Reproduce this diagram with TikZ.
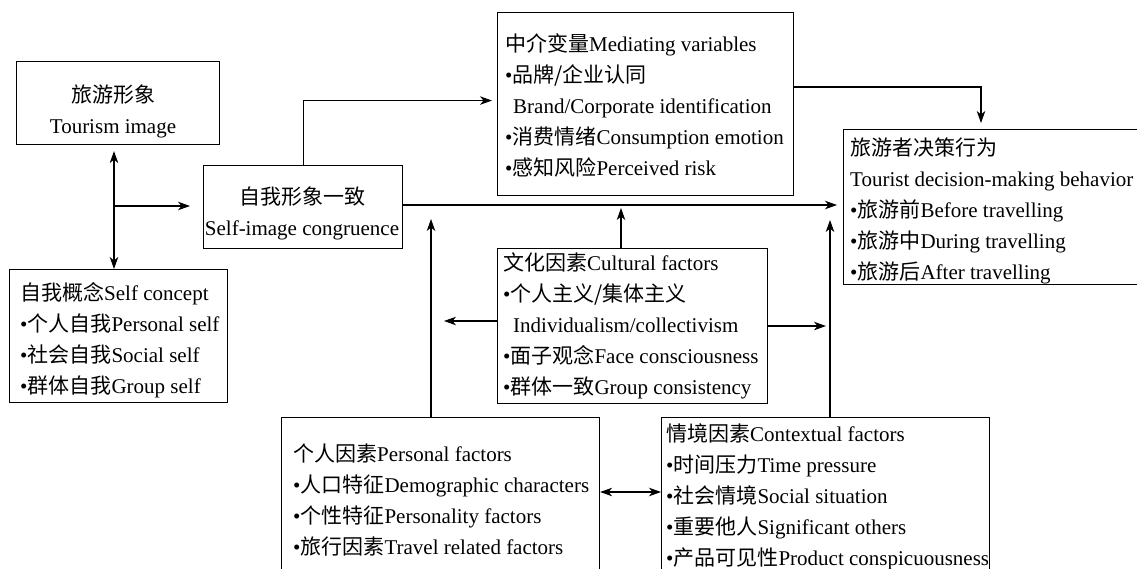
\documentclass[tikz,border=0pt]{standalone}
\usepackage{fontspec}
\setmainfont{Liberation Serif}
\newfontfamily\cjk{Noto Sans CJK SC}
\newcommand\zh[1]{{\cjk #1}}
\usetikzlibrary{arrows.meta}
\begin{document}
\begin{tikzpicture}[x=1pt,y=-1pt,
 box/.style={draw, line width=1.1pt, inner sep=0pt, anchor=north west},
 txt/.style={inner sep=0pt, align=left, anchor=west, font=\fontsize{21}{31}\selectfont},
 txtc/.style={inner sep=0pt, align=center, anchor=center, font=\fontsize{21}{31}\selectfont},
 arr/.style={line width=1.1pt, -{Stealth[length=12pt,width=8.5pt,inset=3.5pt]}},
 dbl/.style={line width=1.1pt, {Stealth[length=12pt,width=8.5pt,inset=3.5pt]}-{Stealth[length=12pt,width=8.5pt,inset=3.5pt]}},
]
\useasboundingbox (0,0) rectangle (1137,568);
\clip (0,0) rectangle (1137,568);

% boxes
\node[box, minimum width=203pt, minimum height=83pt] (timg) at (16,61) {};
\node[box, minimum width=218pt, minimum height=133pt] (scon) at (9,269) {};
\node[box, minimum width=199pt, minimum height=83pt] (simg) at (203,165) {};
\node[box, minimum width=296pt, minimum height=183pt] (med) at (497,12) {};
\node[box, minimum width=330pt, minimum height=155pt] (dec) at (843,129) {};
\node[box, minimum width=270pt, minimum height=155pt] (cult) at (497,248) {};
\node[box, minimum width=318pt, minimum height=180pt] (pers) at (281,417) {};
\node[box, minimum width=328pt, minimum height=180pt] (ctx) at (661,417) {};

% texts
\node[txtc] (timgT) at (113,111.5) {\strut\zh{旅游形象}\\\strut Tourism image};
\node[txtc] (simgT) at (302,213.5) {\strut\zh{自我形象一致}\\\strut Self-image congruence};
\node[txt] (medT) at (505,107) {\strut\zh{中介变量}Mediating variables\\
 \strut•\zh{品牌/企业认同}\\
 \strut\hspace*{8pt}Brand/Corporate identification\\
 \strut•\zh{消费情绪}Consumption emotion\\
 \strut•\zh{感知风险}Perceived risk};
\node[txt] (decT) at (850,211.5) {\strut\zh{旅游者决策行为}\\
 \strut Tourist decision-making behavior\\
 \strut•\zh{旅游前}Before travelling\\
 \strut•\zh{旅游中}During travelling\\
 \strut•\zh{旅游后}After travelling};
\node[txt] (cultT) at (503,326.5) {\strut\zh{文化因素}Cultural factors\\
 \strut•\zh{个人主义/集体主义}\\
 \strut\hspace*{10pt}Individualism/collectivism\\
 \strut•\zh{面子观念}Face consciousness\\
 \strut•\zh{群体一致}Group consistency};
\node[txt] (sconT) at (20,340.5) {\strut\zh{自我概念}Self concept\\
 \strut•\zh{个人自我}Personal self\\
 \strut•\zh{社会自我}Social self\\
 \strut•\zh{群体自我}Group self};
\node[txt] (persT) at (293,502) {\strut\zh{个人因素}Personal factors\\
 \strut•\zh{人口特征}Demographic characters\\
 \strut•\zh{个性特征}Personality factors\\
 \strut•\zh{旅行因素}Travel related factors};
\node[txt] (ctxT) at (666,497.5) {\strut\zh{情境因素}Contextual factors\\
 \strut•\zh{时间压力}Time pressure\\
 \strut•\zh{社会情境}Social situation\\
 \strut•\zh{重要他人}Significant others\\
 \strut•\zh{产品可见性}Product conspicuousness};

% junction coordinates
\coordinate (jx) at (114,206);
\coordinate (vl) at (431,321);
\coordinate (vr) at (830,326);
\coordinate (hc) at (621,205);
\coordinate (pc) at (630,492);
\coordinate (mr) at (981,87);

% connectors
\draw[dbl, shorten <=6pt] (timg.south -| jx) -- (scon.north -| jx);
\draw[arr, shorten >=13pt] (jx) -- (simg.west |- jx);
\draw[arr, shorten >=5pt] (simg.north) |- ([yshift=3.5pt]med.west);
\draw[arr, shorten >=6pt] (simg.east |- hc) -- (dec.west |- hc);
\draw[arr, shorten >=6pt] (med.east |- mr) -| (dec.north -| mr);
\draw[arr, shorten >=3pt] (cult.north -| hc) -- (hc);
\draw[arr, shorten >=13pt] (cult.west |- vl) -- (vl);
\draw[arr, shorten >=4pt] (cult.east |- vr) -- (vr);
\draw[arr, shorten >=14pt] (pers.north -| vl) -- (vl |- hc);
\draw[arr, shorten >=15pt] (ctx.north -| vr) -- (vr |- hc);
\draw[dbl] (pers.east |- pc) -- (ctx.west |- pc);
\end{tikzpicture}
\end{document}
